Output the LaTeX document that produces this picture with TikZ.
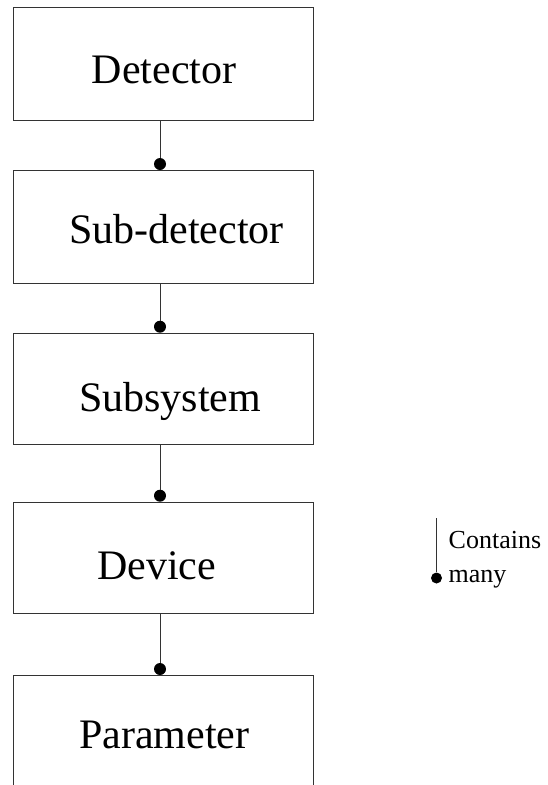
\documentclass[tikz,border=0pt]{standalone}
\usepackage{fontspec}
\setmainfont{Liberation Serif}
\begin{document}
\begin{tikzpicture}[x=1pt,y=-1pt,
  box/.style={draw=black!80, line width=0.9pt, minimum width=299.5pt, inner sep=0pt, anchor=north west},
  lbl/.style={font=\fontsize{42}{50}\selectfont, anchor=base west, inner sep=0pt},
  small/.style={font=\fontsize{26}{31}\selectfont, anchor=base west, inner sep=0pt},
  link/.style={line width=0.9pt, draw=black!80},
  dotc/.style={circle, fill=black, inner sep=0pt, minimum size=12pt}]
\useasboundingbox (0,0) rectangle (547,785);
% boxes
\node[box, minimum height=113pt] (b1) at (13.3,7) {};
\node[box, minimum height=113pt] (b2) at (13.3,170) {};
\node[box, minimum height=111.5pt] (b3) at (13.3,332.7) {};
\node[box, minimum height=111.5pt] (b4) at (13.3,501.7) {};
\node[box, minimum height=115pt] (b5) at (13.3,675) {};
% labels
\node[lbl] (t1) at (91.7,83) {Detector};
\node[lbl] (t2) at (69,243) {Sub-detector};
\node[lbl] (t3) at (79,411) {Subsystem};
\node[lbl] (t4) at (97,579) {Device};
\node[lbl] (t5) at (79,748) {Parameter};
% dots
\node[dotc] (d1) at (160,164) {};
\node[dotc] (d2) at (160,326.7) {};
\node[dotc] (d3) at (160,495.7) {};
\node[dotc] (d4) at (160,669) {};
% connectors
\draw[link] (b1.south -| d1) -- (d1);
\draw[link] (b2.south -| d2) -- (d2);
\draw[link] (b3.south -| d3) -- (d3);
\draw[link] (b4.south -| d4) -- (d4);
% legend
\coordinate (lt) at (436.5,518);
\node[dotc, minimum size=11pt] (d6) at (436.5,578) {};
\draw[link] (lt) -- (d6);
\node[small] (c1) at (448.5,548) {Contains};
\node[small] (c2) at (448.5,582) {many};
\end{tikzpicture}
\end{document}
